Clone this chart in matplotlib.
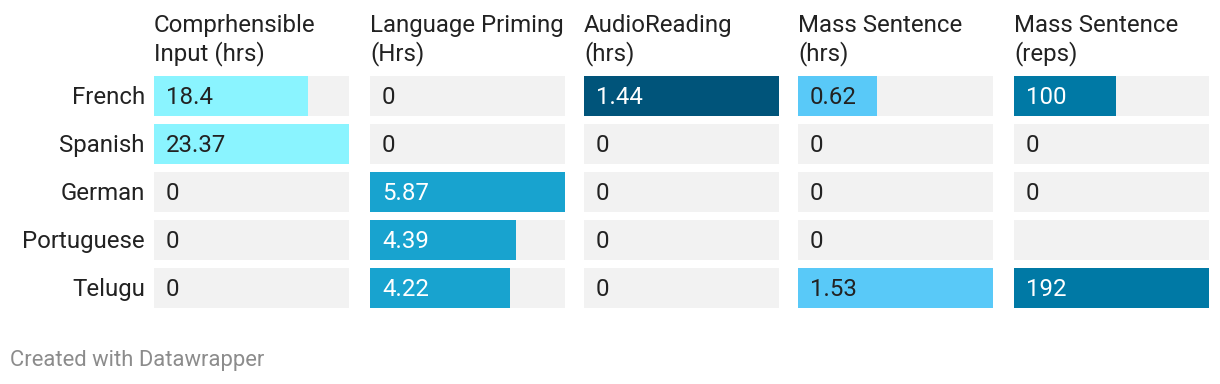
import numpy as np
import matplotlib
matplotlib.use("Agg")
import matplotlib.pyplot as plt

languages = ["French", "Spanish", "German", "Portuguese", "Telugu"]
headers = [["Comprhensible", "Input (hrs)"], ["Language Priming", "(Hrs)"], ["AudioReading", "(hrs)"],
           ["Mass Sentence", "(hrs)"], ["Mass Sentence", "(reps)"]]
comprehensible = [18.4, 23.37, 0, 0, 0]
priming = [0, 0, 5.87, 4.39, 4.22]
audio_reading = [1.44, 0, 0, 0, 0]
mass_hrs = [0.62, 0, 0, 0, 1.53]
mass_reps = [100, 0, 0, np.nan, 192]
value_labels = [
    ["18.4", "23.37", "0", "0", "0"],
    ["0", "0", "5.87", "4.39", "4.22"],
    ["1.44", "0", "0", "0", "0"],
    ["0.62", "0", "0", "0", "1.53"],
    ["100", "0", "0", "", "192"],
]
series = [comprehensible, priming, audio_reading, mass_hrs, mass_reps]
colors = ["#8af4ff", "#18a3cf", "#00547a", "#59c9f8", "#0079a5"]
text_colors = ["#222222", "#ffffff", "#ffffff", "#222222", "#ffffff"]

plt.rcParams['font.family'] = ['Roboto', 'DejaVu Sans']
W, H = 1220, 384
fig = plt.figure(figsize=(W / 100, H / 100), dpi=100)

col_lefts = [154, 370, 584, 798, 1014]
col_width = 195
top_px, bot_px = 76, 308
n = len(languages)
bar_h = 40 / 48
FS = 17.3

for ci, (vals, left) in enumerate(zip(series, col_lefts)):
    ax = fig.add_axes([left / W, 1 - bot_px / H, col_width / W, (bot_px - top_px) / H])
    vals = np.array(vals, dtype=float)
    vmax = np.nanmax(vals)
    ypos = np.arange(n)
    ax.barh(ypos, [vmax] * n, height=bar_h, color="#f2f2f2", linewidth=0)
    ax.barh(ypos, np.nan_to_num(vals), height=bar_h, color=colors[ci], linewidth=0)
    ax.set_xlim(0, vmax)
    ax.set_ylim(n - 1 + bar_h / 2, -bar_h / 2)
    ax.axis("off")
    for ri, v in enumerate(vals):
        lab = value_labels[ci][ri]
        if not lab:
            continue
        tc = text_colors[ci] if (not np.isnan(v) and v > 0) else "#222222"
        ax.text(vmax * 12 / col_width, ri - 0.02, lab, ha="left", va="center_baseline",
                fontsize=FS, color=tc)
    for li, line in enumerate(headers[ci]):
        fig.text(left / W, 1 - (32 + 28 * li) / H, line, ha="left", va="baseline",
                 fontsize=FS, color="#222222")

for ri, lang in enumerate(languages):
    yc = top_px + 19 + ri * 48
    fig.text(145 / W, 1 - yc / H, lang, ha="right", va="center_baseline",
             fontsize=FS, color="#222222")

fig.text(10 / W, 1 - 366 / H, "Created with Datawrapper", ha="left", va="baseline",
         fontsize=15.8, color="#8c8c8c")

fig.savefig("out.png", dpi=100)
